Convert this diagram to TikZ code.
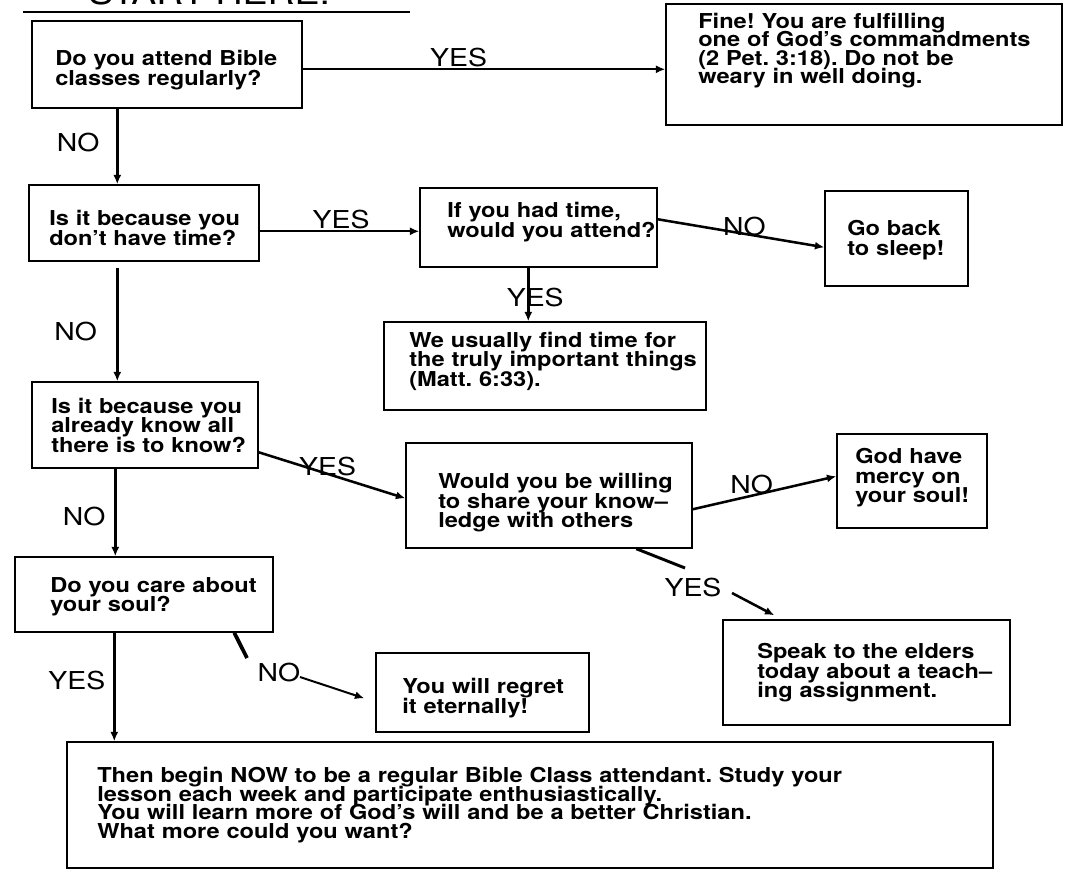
\documentclass[tikz,border=0pt]{standalone}
\usepackage{fontspec}
\setmainfont{TeX Gyre Heros}[FakeStretch=1.15]
\usetikzlibrary{arrows.meta,calc}
\frenchspacing
\newcommand\bx[5]{\node[box, minimum width={(#4-#2)*0.75pt}, minimum height={(#5-#3)*0.75pt}] (#1) at ({(#2+#4)/2},{(#3+#5)/2}) {};}
\tikzset{
  box/.style={draw, line width=1.1pt, rectangle, inner sep=0pt},
  txt/.style={text width=600pt, align=left, inner sep=0pt, anchor=west,
    font=\bfseries\fontsize{15.4}{14.6}\selectfont,
    execute at begin node={\setlength{\lineskiplimit}{-100pt}\frenchspacing}},
  txtn/.style={txt, font=\bfseries\fontsize{15.4}{13.8}\selectfont},
  lbl/.style={inner sep=1pt, font=\fontsize{18.5}{20}\selectfont},
  arr/.style={-{Latex[length=7pt,width=6pt]}, line width=1.5pt},
  darr/.style={arr, line width=1.9pt},
  varr/.style={arr, line width=2.6pt},
  seg/.style={line width=2.2pt},
}
\begin{document}
\begin{tikzpicture}[x=0.75pt,y=-0.75pt]
\useasboundingbox[fill=white] (0,0) rectangle (1070,872);
% heading
\node[anchor=base west, inner sep=0pt, font=\fontsize{24.4}{26}\selectfont] (start) at (88,4) {START HERE:};
\draw[line width=1.5pt] ($(start.base west)+(-65,8)$) -- ($(start.base west)+(322,8)$);
% boxes
\bx{b1}{32}{21}{302}{108}
\bx{fin}{666}{4}{1062}{125}
\bx{b2}{29}{185}{259}{261}
\bx{b3}{420}{188}{657}{267}
\bx{gb}{825}{191}{968}{286}
\bx{b4}{384}{322}{706}{410}
\bx{b5}{32}{382}{258}{468}
\bx{b6}{406}{443}{692}{548}
\bx{god}{837}{434}{987}{528}
\bx{sp}{723}{620}{1010}{725}
\bx{b7}{15}{557}{273}{632}
\bx{rg}{376}{653}{589}{732}
\bx{b8}{67}{742}{993}{868}
% texts
\node[txt] (t1) at (55,70) {Do you attend Bible\\classes regularly?};
\node[txtn] (tfin) at (698,50.5) {Fine! You are fulfilling\\one of God's commandments\\(2 Pet. 3:18). Do not be\\weary in well doing.};
\node[txt] (t2) at (49,228) {Is it because you\\don't have time?};
\node[txt] (t3) at (447,222) {If you had time,\\would you attend?};
\node[txt] (tgb) at (847,240) {Go back\\to sleep!};
\node[txt] (t4) at (409,361) {We usually find time for\\the truly important things\\(Matt. 6:33).};
\node[txt] (t5) at (51,425) {Is it because you\\already know all\\there is to know?};
\node[txt] (t6) at (438,503) {Would you be willing\\to share your know–\\ledge with others};
\node[txt] (tgod) at (855,478) {God have\\mercy on\\your soul!};
\node[txt] (tsp) at (757,673) {Speak to the elders\\today about a teach–\\ing assignment.};
\node[txt] (t7) at (50,597) {Do you care about\\your soul?};
\node[txt] (trg) at (402,698) {You will regret\\it eternally!};
\node[txtn] (t8) at (97,805) {Then begin NOW to be a regular Bible Class attendant. Study your\\lesson each week and participate enthusiastically.\\You will learn more of God's will and be a better Christian.\\What more could you want?};
% connectors
\coordinate (c1) at ($(b1.north east)+(0,49)$);
\draw[arr] (c1) -- node[lbl, pos=0.43, above=0pt] (l1) {YES} (c1 -| fin.west);
\coordinate (c2) at ($(b1.south west)+(86,0)$);
\draw[varr] (c2) -- node[lbl, pos=0.45, left=11pt] (l2) {NO} (c2 |- b2.north);
\coordinate (c3) at ($(b2.north east)+(0,47)$);
\draw[arr] (c3) -- node[lbl, pos=0.51, above=0pt] (l3) {YES} (c3 -| b3.west);
\coordinate (c4) at ($(b3.north east)+(0,32)$);
\coordinate (c5) at ($(gb.north west)+(0,57)$);
\draw[darr] (c4) -- node[lbl, pos=0.52, yshift=5.8pt] (l4) {NO} (c5);
\coordinate (c6) at ($(b3.south west)+(109,0)$);
\draw[varr] (c6) -- node[lbl, pos=0.55, xshift=5.25pt] (l5) {YES} (c6 |- b4.north);
\coordinate (c7) at ($(b2.south west)+(89,6)$);
\draw[varr] (c7) -- node[lbl, pos=0.56, left=13pt] (l6) {NO} (c7 |- b5.north);
\coordinate (c8) at ($(b5.north east)+(0,71)$);
\coordinate (c9) at ($(b6.north west)+(0,56)$);
\draw[darr] (c8) -- node[lbl, pos=0.47, yshift=5.7pt] (l7) {YES} (c9);
\coordinate (c10) at ($(b6.north east)+(0,67)$);
\coordinate (c11) at ($(god.north west)+(0,43)$);
\draw[darr] (c10) -- node[lbl, pos=0.41, yshift=8.6pt] (l8) {NO} (c11);
% broken YES from b6 to sp
\node[lbl] (l9) at (693,587) {YES};
\coordinate (c12) at ($(b6.south west)+(231,0)$);
\coordinate (c13) at (685,568);
\coordinate (c14) at (732,593);
\coordinate (c15) at ($(sp.north west)+(52,-4)$);
\draw[seg] (c12) -- (c13);
\draw[darr] (c14) -- (c15);
% b5 -> b7
\coordinate (c16) at ($(b5.south west)+(84,0)$);
\draw[varr] (c16) -- node[lbl, pos=0.55, left=5pt] (l10) {NO} (c16 |- b7.north);
% b7 -> b8
\coordinate (c21) at ($(b7.south west)+(100,0)$);
\draw[varr] (c21) -- node[lbl, pos=0.44, left=4.5pt] (l11) {YES} (c21 |- b8.north);
% broken NO from b7 to rg
\node[lbl] (l12) at (279,672) {NO};
\coordinate (c17) at ($(b7.south west)+(220,0)$);
\coordinate (c18) at (247,658);
\coordinate (c19) at (300,677);
\coordinate (c20) at ($(rg.north west)+(-11,46)$);
\draw[line width=2.8pt] (c17) -- (c18);
\draw[arr] (c19) -- (c20);
\end{tikzpicture}
\end{document}
